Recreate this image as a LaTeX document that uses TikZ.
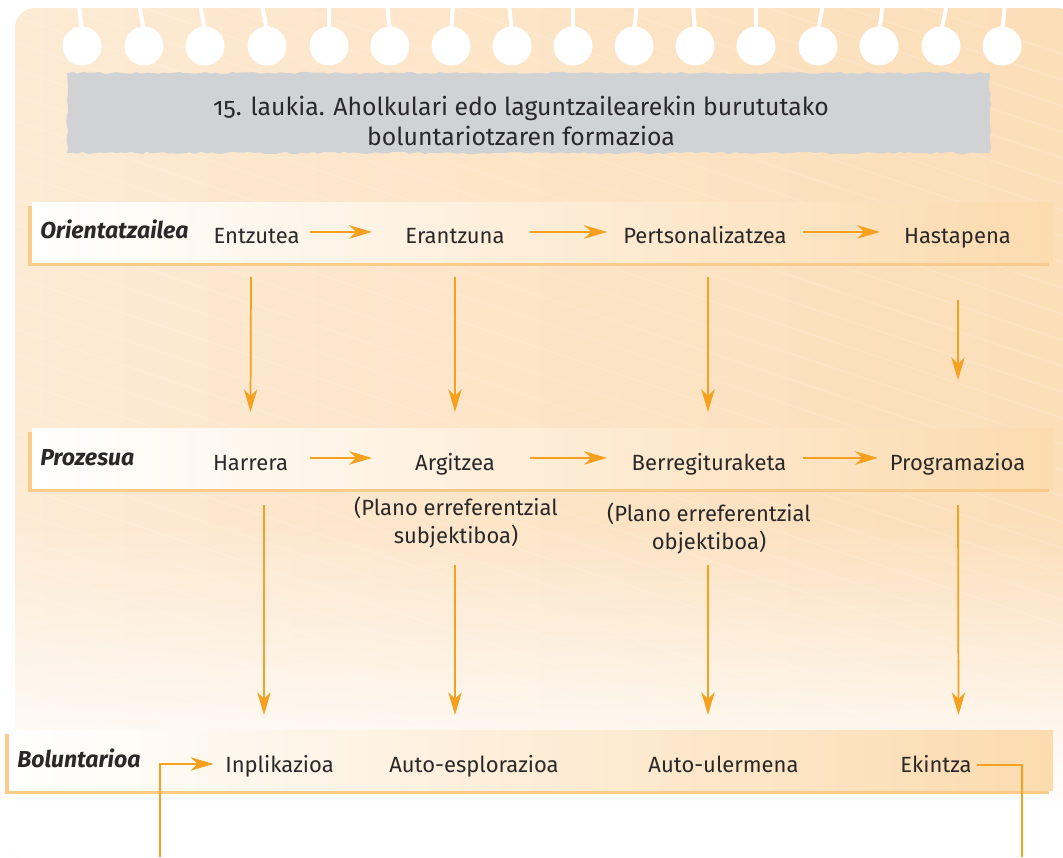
\documentclass[tikz,border=0pt]{standalone}
\usepackage{fontspec}
\setmainfont{Fira Sans}[Numbers=OldStyle]
\usetikzlibrary{arrows.meta,decorations.pathmorphing,fadings}
\definecolor{ora}{RGB}{245,160,30}
\definecolor{pg1}{RGB}{253,235,213}
\definecolor{pg2}{RGB}{252,222,184}
\definecolor{bandR}{RGB}{252,219,175}
\definecolor{shad}{RGB}{251,203,140}
\definecolor{gbox}{RGB}{209,210,212}
\definecolor{txt}{RGB}{42,40,40}
\tikzfading[name=fadedown, top color=transparent!100, bottom color=transparent!0]
\begin{document}
\begin{tikzpicture}[x=0.75pt,y=0.75pt,
  lbl/.style={font=\fontsize{16.5}{21}\selectfont, text=txt, inner sep=0pt,
    text height=11pt, text depth=3pt, anchor=base},
  head/.style={font=\fontsize{17.3}{21}\selectfont\bfseries\itshape, text=txt,
    inner sep=0pt, anchor=base west},
  sub/.style={font=\fontsize{16.5}{21}\selectfont, text=txt, inner sep=0pt,
    align=center, anchor=base},
  arr/.style={draw=ora, line width=1.3pt, -{Stealth[length=17pt,width=10pt,inset=5pt]}},
  loopline/.style={draw=ora, line width=1.1pt},
  bandshadow/.style={fill=shad},
  bandmain/.style={left color=white, right color=bandR},
  hole/.style={fill=white},
  holeline/.style={draw=white, line width=3pt}
]
\useasboundingbox (0,0) rectangle (1063,-857);

% page
\begin{scope}
  \clip[rounded corners=15] (15,-870) -- (15,-8) -- (1078,-8) -- (1078,-870) -- cycle;
  \shade[left color=pg1, right color=pg2] (0,-870) rectangle (1080,0);
  \foreach \k in {0,...,60} {
    \draw[white, opacity=0.2, line width=0.7pt] (0,{-\k*26+300}) -- (1080,{-\k*26+300-360});
  }
  \fill[white, path fading=fadedown] (0,-520) rectangle (1080,-805);
  \fill[white] (0,-804) rectangle (1080,-870);
\end{scope}

% spiral holes
\foreach \xc/\d in {82/-3,144/-5,205/-5,267/-5,329/0,390/-3,451/2,512/-3,573/0,634/3,695/-2,756/0,818/5,879/4,941/6,1002/3} {
  \draw[holeline] (\xc+\d,-4) -- (\xc,-32);
  \fill[hole] (\xc,-46) circle (19.5);
}

% title box
\fill[gbox, decorate, decoration={random steps, segment length=4pt, amplitude=0.9pt}]
  (67,-73) -- (990,-73) -- (990,-153) -- (67,-153) -- cycle;
\node[sub, font=\fontsize{18.6}{22.5}\selectfont] (title) at (521,-145)
  {15. laukia. Aholkulari edo laguntzailearekin burututako\\boluntariotzaren formazioa};

% bands
\fill[bandshadow] (28,-206) rectangle (1049,-266);
\shade[bandmain] (32,-202) rectangle (1053,-262);
\fill[bandshadow] (28,-432) rectangle (1049,-492);
\shade[bandmain] (32,-428) rectangle (1053,-488);
\fill[bandshadow] (5,-734) rectangle (1049,-794);
\shade[bandmain] (9,-730) rectangle (1053,-790);

% row headers
\node[head] (h1) at (40,-238) {Orientatzailea};
\node[head] (h2) at (40,-465) {Prozesua};
\node[head] (h3) at (17,-767) {Boluntarioa};

% row 1
\node[lbl] (o1) at (256.5,-243) {Entzutea};
\node[lbl] (o2) at (455,-243) {Erantzuna};
\node[lbl] (o3) at (705,-243) {Pertsonalizatzea};
\node[lbl] (o4) at (957.5,-243) {Hastapena};
% row 2
\node[lbl] (p1) at (250.5,-470) {Harrera};
\node[lbl] (p2) at (455,-470) {Argitzea};
\node[lbl] (p3) at (709,-470) {Berregituraketa};
\node[lbl] (p4) at (957.5,-470) {Programazioa};
\node[sub] (s1) at (456,-543) {(Plano erreferentzial\\subjektiboa)};
\node[sub] (s2) at (709,-549) {(Plano erreferentzial\\objektiboa)};
% row 3
\node[lbl] (i1) at (279.5,-772) {Inplikazioa};
\node[lbl] (i2) at (474,-772) {Auto-esplorazioa};
\node[lbl] (i3) at (723.5,-772) {Auto-ulermena};
\node[lbl] (i4) at (936,-772) {Ekintza};

\coordinate (lb) at (160,-857);
\coordinate (rb) at (1022,-857);

% horizontal arrows row 1
\draw[arr] ([shift={(53.5,5.7)}]o1.center) -- ([shift={(-83,5.7)}]o2.center);
\draw[arr] ([shift={(75,5.7)}]o2.center) -- ([shift={(-98,5.7)}]o3.center);
\draw[arr] ([shift={(98,5.7)}]o3.center) -- ([shift={(-77.5,5.7)}]o4.center);
% horizontal arrows row 2
\draw[arr] ([shift={(59.5,6.7)}]p1.center) -- ([shift={(-83,6.7)}]p2.center);
\draw[arr] ([shift={(75,6.7)}]p2.center) -- ([shift={(-102,6.7)}]p3.center);
\draw[arr] ([shift={(94,6.7)}]p3.center) -- ([shift={(-79.5,6.7)}]p4.center);

% vertical arrows row 1 -> row 2
\draw[arr] ([shift={(-5.5,-39.3)}]o1.center) -- ([shift={(0,52.7)}]p1.center);
\draw[arr] ([shift={(0,-39.3)}]o2.center) -- ([shift={(0,52.7)}]p2.center);
\draw[arr] ([shift={(3,-39.3)}]o3.center) -- ([shift={(-1,52.7)}]p3.center);
\draw[arr] ([shift={(0.5,-62.3)}]o4.center) -- ([shift={(0.5,84.7)}]p4.center);

% vertical arrows row 2 -> row 3
\draw[arr] ([shift={(13.5,-40.3)}]p1.center) -- ([shift={(-15.5,51.7)}]i1.center);
\draw[arr] ([shift={(-1,-22)}]s1.base) -- ([shift={(-19,51.7)}]i2.center);
\draw[arr] ([shift={(-1,-16)}]s2.base) -- ([shift={(-15.5,51.7)}]i3.center);
\draw[arr] ([shift={(0.5,-40.3)}]p4.center) -- ([shift={(22.5,51.7)}]i4.center);

% feedback loop
\draw[loopline] ([shift={(5,1.7)}]i4.east) -| (rb);
\draw[arr, line width=1.1pt] (lb) |- ([shift={(-66,2.7)}]i1.center);
\end{tikzpicture}
\end{document}
